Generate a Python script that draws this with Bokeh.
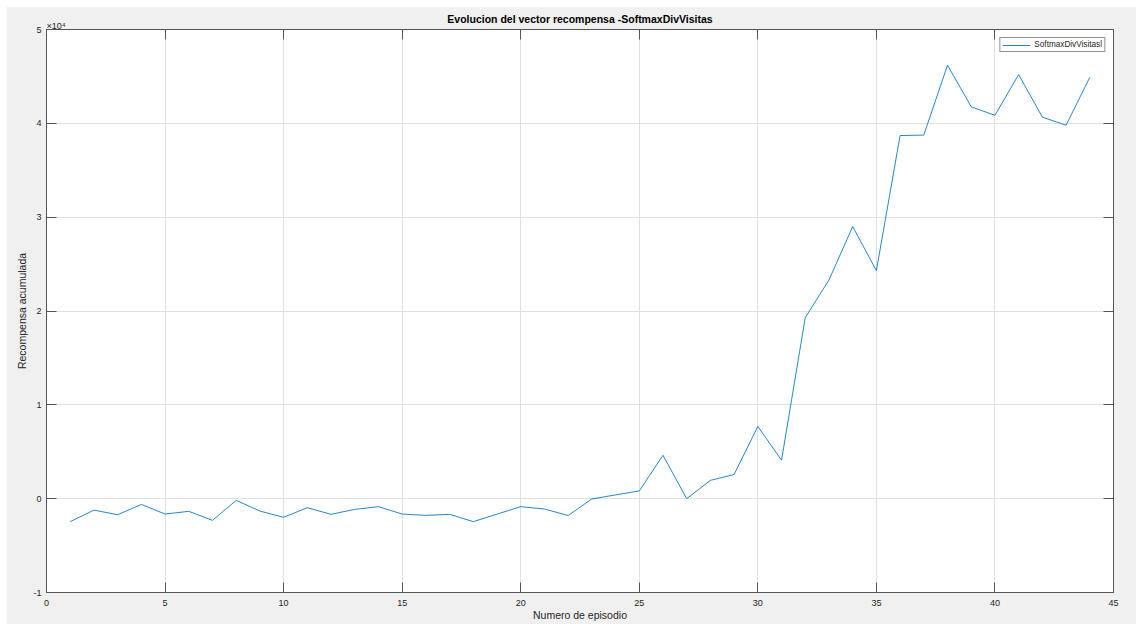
from bokeh.plotting import figure
from bokeh.models import Range1d, FixedTicker, LinearAxis, Legend, LegendItem
from bokeh.embed import file_html
from bokeh.resources import INLINE

# ---- data ----
episodes = list(range(1, 45))
rewards = [-2450, -1220, -1710, -610, -1640, -1350, -2310, -180, -1320, -1990,
           -960, -1670, -1140, -850, -1640, -1780, -1670, -2450, -1650, -850,
           -1100, -1800, -30, 400, 820, 4620, 0, 1950, 2580, 7700,
           4100, 19300, 23300, 29000, 24300, 38700, 38750, 46200, 41760, 40850,
           45200, 40660, 39800, 44900]
x_ticks = [0, 5, 10, 15, 20, 25, 30, 35, 40, 45]
y_ticks = [-10000, 0, 10000, 20000, 30000, 40000, 50000]
y_tick_labels = ["-1", "0", "1", "2", "3", "4", "5"]
series_name = "SoftmaxDivVisitasl"
title_text = "Evolucion del vector recompensa -SoftmaxDivVisitas"
x_label = "Numero de episodio"
y_label = "Recompensa acumulada"
exponent_text = "×10⁴"

FONT = "Liberation Sans"
TXT = "#262626"
AX = "#555555"

p = figure(width=1130, height=618, margin=(6, 0, 0, 6),
           output_backend="svg", toolbar_location=None, title=None,
           x_range=Range1d(0, 45), y_range=Range1d(-10000, 50000),
           min_border_left=40, min_border_right=23, min_border_top=23,
           min_border_bottom=32,
           background_fill_color="white", border_fill_color="#f0f0f0")
p.outline_line_color = AX
p.outline_line_width = 1


def style_axis(ax):
    ax.major_tick_in = 10
    ax.major_tick_out = 0
    ax.minor_tick_in = 0
    ax.minor_tick_out = 0
    ax.axis_line_color = AX
    ax.major_tick_line_color = AX
    ax.minor_tick_line_color = AX
    ax.major_label_text_font = FONT
    ax.major_label_text_font_size = "9px"
    ax.major_label_text_color = TXT
    ax.axis_label_text_font = FONT
    ax.axis_label_text_font_size = "10.5px"
    ax.axis_label_text_font_style = "normal"
    ax.axis_label_text_color = TXT


xt = FixedTicker(ticks=x_ticks)
yt = FixedTicker(ticks=y_ticks)

xa = p.xaxis[0]
xa.ticker = xt
style_axis(xa)
xa.major_label_standoff = 7
xa.axis_label = x_label
xa.axis_label_standoff = 0

ya = p.yaxis[0]
ya.ticker = yt
style_axis(ya)
ya.major_label_standoff = 5
ya.major_label_overrides = {t: l for t, l in zip(y_ticks, y_tick_labels)}
ya.axis_label = y_label
ya.axis_label_standoff = 2

# top axis: mirrored ticks (as minor ticks), exponent label and the title
exp_pos = 0.4
top_ax = LinearAxis(ticker=FixedTicker(ticks=[exp_pos], minor_ticks=x_ticks))
style_axis(top_ax)
top_ax.major_tick_in = 0
top_ax.minor_tick_in = 10
top_ax.major_label_standoff = -1
top_ax.major_label_text_font_size = "9px"
top_ax.major_label_overrides = {exp_pos: exponent_text}
top_ax.axis_label = title_text
top_ax.axis_label_text_font_size = "10.5px"
top_ax.axis_label_text_font_style = "bold"
top_ax.axis_label_text_color = "black"
top_ax.axis_label_standoff = -7
p.add_layout(top_ax, "above")

# right axis: mirrored ticks only
right_ax = LinearAxis(ticker=FixedTicker(ticks=[], minor_ticks=y_ticks))
style_axis(right_ax)
right_ax.minor_tick_in = 10
p.add_layout(right_ax, "right")

p.xgrid.ticker = xt
p.ygrid.ticker = yt
p.xgrid.grid_line_color = "#e0e0e0"
p.ygrid.grid_line_color = "#e0e0e0"

r = p.line(episodes, rewards, line_color="#0072BD", line_width=1, line_alpha=0.85)

legend = Legend(items=[LegendItem(label=series_name, renderers=[r])],
                location="top_right", margin=8, padding=2, spacing=0,
                glyph_width=28, glyph_height=8, label_height=8, label_standoff=4,
                label_text_font=FONT, label_text_font_size="8.2px",
                label_text_color=TXT,
                border_line_color="#262626", border_line_width=1,
                background_fill_color="white", background_fill_alpha=1)
p.add_layout(legend)

open("out.html", "w").write(file_html(p, INLINE))
